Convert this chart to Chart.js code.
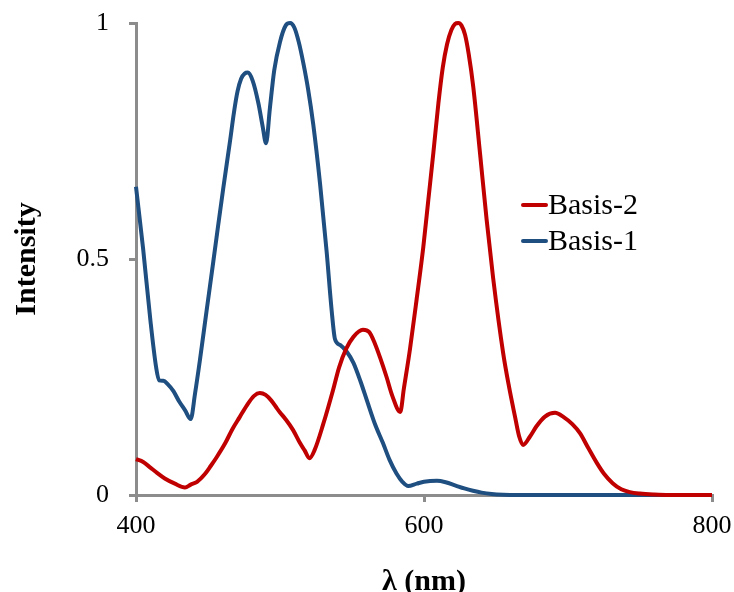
<!DOCTYPE html>
<html>
<head>
<meta charset="utf-8">
<script src="https://cdn.jsdelivr.net/npm/chart.js@4/dist/chart.umd.min.js"></script>
<style>
  html, body { margin: 0; padding: 0; background: #fff; }
</style>
</head>
<body>
<canvas id="spectra" width="734" height="592"></canvas>
<script>
// wavelengths (nm) and intensities
var wl1 = [400, 405, 410, 414, 416, 419, 422, 426, 430, 434, 438, 441, 444.4, 449, 453.7, 457, 460.6, 465.3, 468, 470.5, 473, 475.5, 477.6, 481, 485, 488, 490.3, 493, 496, 500, 504, 507, 510, 513, 516.2, 519.5, 523.1, 527.8, 532.4, 535.9, 538.2, 541.7, 546.5, 551, 556, 560.4, 566, 571.5, 576, 581, 585, 589, 595, 600, 609, 615, 622, 628, 634, 640, 647, 655, 665, 700, 800];
var basis1 = [0.653, 0.52, 0.37, 0.27, 0.243, 0.242, 0.235, 0.22, 0.198, 0.18, 0.161, 0.215, 0.286, 0.39, 0.495, 0.57, 0.65, 0.75, 0.81, 0.855, 0.882, 0.893, 0.895, 0.878, 0.83, 0.78, 0.745, 0.82, 0.9, 0.96, 0.995, 1.0, 0.99, 0.96, 0.915, 0.86, 0.785, 0.66, 0.515, 0.39, 0.33, 0.318, 0.303, 0.28, 0.24, 0.2, 0.15, 0.11, 0.075, 0.045, 0.028, 0.019, 0.024, 0.028, 0.03, 0.027, 0.02, 0.014, 0.009, 0.005, 0.002, 0.0005, 0, 0, 0];

var wl2 = [400, 405, 410, 414.6, 420, 427, 434, 438, 442.4, 448, 452, 456, 462, 467, 472, 477, 482, 486, 490, 494, 498, 500, 504, 509, 513.9, 517, 520.5, 524, 530, 536.8, 541, 546, 551, 557.6, 562, 566, 569.4, 574, 578, 583.5, 586, 590.3, 594.9, 599.5, 603, 606.5, 610, 613, 616, 619, 621.5, 623.8, 626, 628.5, 631, 634.2, 638.9, 643.5, 648, 655, 659, 663.2, 666, 668.8, 673.6, 678, 684, 691, 697, 703, 708.3, 714, 720, 725, 731, 737, 743, 750, 760, 770, 800];
var basis2 = [0.076, 0.07, 0.058, 0.047, 0.035, 0.024, 0.016, 0.022, 0.028, 0.045, 0.062, 0.08, 0.11, 0.14, 0.165, 0.19, 0.21, 0.216, 0.212, 0.2, 0.183, 0.175, 0.16, 0.138, 0.11, 0.095, 0.078, 0.095, 0.15, 0.222, 0.27, 0.31, 0.335, 0.35, 0.345, 0.32, 0.292, 0.25, 0.21, 0.176, 0.225, 0.31, 0.415, 0.525, 0.625, 0.725, 0.83, 0.905, 0.955, 0.985, 0.998, 1.0, 0.995, 0.975, 0.935, 0.865, 0.724, 0.583, 0.46, 0.30, 0.23, 0.166, 0.125, 0.106, 0.124, 0.145, 0.166, 0.174, 0.165, 0.15, 0.131, 0.1, 0.068, 0.045, 0.025, 0.012, 0.006, 0.003, 0.001, 0, 0];

var xTicks = [400, 600, 800];
var yTicks = [0, 0.5, 1];

function pts( xs, ys ){
    return xs.map(function( x, i ){ return { x: x, y: ys[i] }; });
}

var axisGrey = '#8c8c8c';
var serif = '"Liberation Serif", "Times New Roman", serif';

// legend drawn at the spot the original uses (to the right of the red peak)
var sideLegend = {
    id: 'sideLegend',
    afterDraw: function( chart ){
        var ctx = chart.ctx;
        ctx.save();
        ctx.font = '30px ' + serif;
        ctx.textBaseline = 'middle';
        ctx.fillStyle = '#000';
        chart.data.datasets.forEach(function( ds, i ){
            var y = 205 + i * 36;
            ctx.strokeStyle = ds.borderColor;
            ctx.lineWidth = 4;
            ctx.lineCap = 'round';
            ctx.beginPath();
            ctx.moveTo( 523, y );
            ctx.lineTo( 546, y );
            ctx.stroke();
            ctx.fillText( ds.label, 548, y + 1 );
        });
        ctx.restore();
    }
};

var ctx = document.getElementById( 'spectra' ).getContext( '2d' );
var spectraChart = new Chart( ctx, {
    type: 'line',
    data: {
        datasets: [{
            label: 'Basis-2',
            data: pts( wl2, basis2 ),
            borderColor: '#C00000',
            borderWidth: 4,
            pointRadius: 0,
            cubicInterpolationMode: 'monotone',
            clip: false
        }, {
            label: 'Basis-1',
            data: pts( wl1, basis1 ),
            borderColor: '#1F4E80',
            borderWidth: 4,
            pointRadius: 0,
            cubicInterpolationMode: 'monotone',
            clip: false
        }]
    },
    options: {
        responsive: false,
        animation: false,
        devicePixelRatio: 1,
        layout: { padding: { left: 0, top: 23, right: 22, bottom: 0 } },
        plugins: {
            legend: { display: false },
            tooltip: { enabled: false }
        },
        scales: {
            x: {
                type: 'linear',
                min: 400,
                max: 800,
                afterFit: function( s ){ s.height = 97; s.paddingLeft = 0; s.paddingRight = 0; },
                afterBuildTicks: function( s ){ s.ticks = xTicks.map(function( v ){ return { value: v }; }); },
                ticks: { font: { family: serif, size: 26 }, color: '#000', padding: 9, maxRotation: 0 },
                grid: { drawOnChartArea: false, tickLength: 7, color: axisGrey, lineWidth: 3 },
                border: { color: axisGrey, width: 3 },
                title: {
                    display: true,
                    text: 'λ (nm)',
                    font: { family: serif, size: 30, weight: 'bold' },
                    color: '#000',
                    padding: { top: 0, bottom: -8 }
                }
            },
            y: {
                min: 0,
                max: 1,
                afterFit: function( s ){ s.width = 136; s.paddingTop = 0; s.paddingBottom = 0; },
                afterBuildTicks: function( s ){ s.ticks = yTicks.map(function( v ){ return { value: v }; }); },
                ticks: {
                    font: { family: serif, size: 26 },
                    color: '#000',
                    padding: 20,
                    callback: function( v ){ return String( v ); }
                },
                grid: { drawOnChartArea: false, tickLength: 7, color: axisGrey, lineWidth: 3 },
                border: { color: axisGrey, width: 3 },
                title: {
                    display: true,
                    text: 'Intensity',
                    font: { family: serif, size: 30, weight: 'bold' },
                    color: '#000',
                    padding: { top: 9, bottom: 0 }
                }
            }
        }
    },
    plugins: [ sideLegend ]
});
</script>
</body>
</html>
